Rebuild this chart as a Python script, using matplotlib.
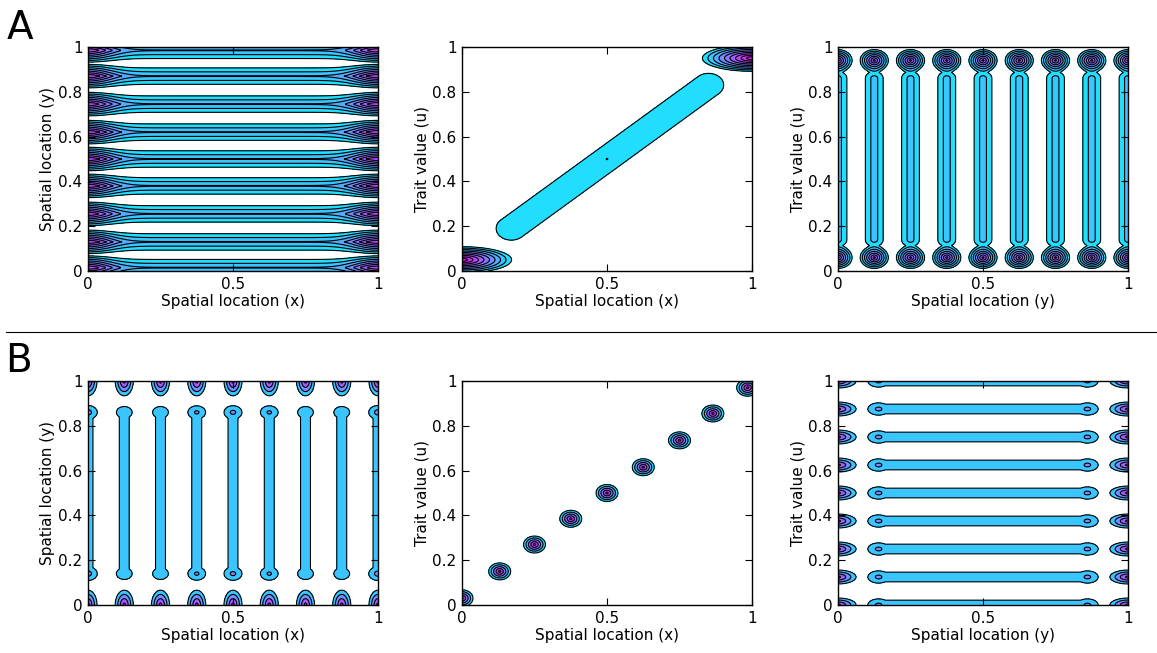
import numpy as np
import matplotlib
matplotlib.use("Agg")
import matplotlib.pyplot as plt
from matplotlib.lines import Line2D

# stripe / cluster centres
a1_stripe_y = [0.015, 0.13, 0.255, 0.38, 0.5, 0.62, 0.745, 0.87, 0.985]
a2_band_start = (0.17, 0.19)
a2_band_end = (0.85, 0.83)
a2_corner_blobs = [(0.0, 0.05), (1.0, 0.95)]
a3_stripe_x = [0.0, 0.125, 0.25, 0.375, 0.5, 0.625, 0.75, 0.875, 1.0]
a3_blob_u = [0.06, 0.94]
b1_stripe_x = [0.0, 0.125, 0.25, 0.375, 0.5, 0.625, 0.75, 0.875, 1.0]
b1_bulge_y = [0.14, 0.86]
b1_bulge_peak = [0.45, 0.36, 0.36, 0.42, 0.43, 0.42, 0.36, 0.36, 0.45]
b2_dot_x = [0.0, 0.13, 0.25, 0.375, 0.5, 0.625, 0.75, 0.865, 0.985]
b2_dot_u = [0.03, 0.15, 0.27, 0.385, 0.5, 0.615, 0.735, 0.855, 0.97]
b3_stripe_u = [0.0, 0.125, 0.25, 0.375, 0.5, 0.625, 0.75, 0.875, 1.0]
b3_bulge_x = [0.14, 0.86]

x_labels = ["Spatial location (x)", "Spatial location (x)", "Spatial location (y)"]
y_labels = ["Spatial location (y)", "Trait value (u)", "Trait value (u)"]

g = np.linspace(0, 1, 301)
X, Y = np.meshgrid(g, g)


def blob(cx, cy, sx, sy, amp):
    return amp * np.exp(-((X - cx) ** 2 / (2 * sx ** 2) + (Y - cy) ** 2 / (2 * sy ** 2)))


def cone(cx, cy, rx, ry, amp):
    r = np.sqrt(((X - cx) / rx) ** 2 + ((Y - cy) / ry) ** 2)
    return amp * np.clip(1 - r, 0, None)


def segment(p0, p1, s, amp):
    p0 = np.array(p0); p1 = np.array(p1)
    d = p1 - p0
    t = ((X - p0[0]) * d[0] + (Y - p0[1]) * d[1]) / (d @ d)
    t = np.clip(t, 0, 1)
    dist2 = (X - p0[0] - t * d[0]) ** 2 + (Y - p0[1] - t * d[1]) ** 2
    return amp * np.exp(-dist2 / (2 * s ** 2))


# A1 : horizontal stripes, stronger at the x edges
edge = np.exp(-(X / 0.09) ** 2) + np.exp(-((1 - X) / 0.09) ** 2)
fA1 = np.zeros_like(X)
for yc in a1_stripe_y:
    amp = 0.31 + 0.48 * edge
    R = 0.054 + 0.006 * edge
    fA1 = np.maximum(fA1, amp * np.clip(1 - np.abs(Y - yc) / R, 0, None))

# A2 : diagonal band + corner blobs
fA2 = segment(a2_band_start, a2_band_end, 0.058, 0.15)
fA2 += blob(0.5, 0.5, 0.004, 0.004, 0.07)
for cx, cy in a2_corner_blobs:
    fA2 = np.maximum(fA2, cone(cx, cy, 0.19, 0.065, 1.0))

# A3 : vertical stripes with blobs at top/bottom
fA3 = np.zeros_like(X)
for xc in a3_stripe_x:
    col = segment((xc, 0.14), (xc, 0.86), 0.024, 0.226)
    for uc in a3_blob_u:
        col = col + cone(xc, uc, 0.056, 0.056, 0.75)
    fA3 = np.maximum(fA3, col)

# B1 : vertical stripes, caps at y=0 and y=1
fB1 = np.zeros_like(X)
for xc, pk in zip(b1_stripe_x, b1_bulge_peak):
    fB1 = np.maximum(fB1, segment((xc, 0.14), (xc, 0.86), 0.019, 0.3))
    for yc in b1_bulge_y:
        fB1 = np.maximum(fB1, blob(xc, yc, 0.025, 0.024, pk))
    for yc in [0.0, 1.0]:
        fB1 = np.maximum(fB1, cone(xc, yc, 0.04, 0.085, 0.9))

# B2 : separated clusters along the diagonal
fB2 = np.zeros_like(X)
for cx, cu in zip(b2_dot_x, b2_dot_u):
    fB2 = np.maximum(fB2, cone(cx, cu, 0.042, 0.042, 1.0))

# B3 : horizontal stripes, edge blobs at x=0 and x=1
fB3 = np.zeros_like(X)
for uc in b3_stripe_u:
    fB3 = np.maximum(fB3, segment((0.13, uc), (0.87, uc), 0.024, 0.3))
    for xc in b3_bulge_x:
        fB3 = np.maximum(fB3, blob(xc, uc, 0.03, 0.022, 0.43))
    for xc in [0.0, 1.0]:
        fB3 = np.maximum(fB3, cone(xc, uc, 0.08, 0.04, 0.9))

levels_fine = [0.1, 0.2, 0.3, 0.4, 0.5, 0.6, 0.7, 0.8, 0.9, 1.01]
levels_dots = [0.1, 0.3, 0.5, 0.7, 0.9, 1.01]
levels_coarse = [0.2, 0.4, 0.6, 0.8, 1.01]

panels = [
    (fA1, levels_fine), (fA2, levels_fine), (fA3, levels_fine),
    (fB1, levels_coarse), (fB2, levels_dots), (fB3, levels_coarse),
]

fig = plt.figure(figsize=(11.57, 6.53), dpi=100)
lefts = [88 / 1157, 462 / 1157, 838 / 1157]
bottoms = [1 - 271 / 653, 1 - 605 / 653]
w, h = 290 / 1157, 224 / 653
cool = plt.get_cmap("cool")

for i, (field, lev) in enumerate(panels):
    row, col = divmod(i, 3)
    ax = fig.add_axes([lefts[col], bottoms[row], w, h])
    cols = [cool(min(l + 0.03, 1.0)) for l in lev[:-1]]
    ax.contourf(X, Y, field, levels=lev, colors=cols)
    ax.contour(X, Y, field, levels=lev[:-1], colors="k", linewidths=0.8)
    ax.set_xlim(0, 1)
    ax.set_ylim(0, 1)
    ax.set_xticks([0, 0.5, 1])
    ax.set_xticklabels(["0", "0.5", "1"])
    ax.set_yticks([0, 0.2, 0.4, 0.6, 0.8, 1])
    ax.set_yticklabels(["0", "0.2", "0.4", "0.6", "0.8", "1"])
    ax.tick_params(direction="in", top=True, right=True, length=5, labelsize=11, pad=4)
    ax.set_xlabel(x_labels[col], fontsize=11, labelpad=2)
    ax.set_ylabel(y_labels[col], fontsize=11, labelpad=2)
    for sp in ax.spines.values():
        sp.set_linewidth(1.0)

fig.text(0.006, 0.94, "A", fontsize=28)
fig.text(0.004, 0.43, "B", fontsize=28)
fig.add_artist(Line2D([0.005, 1.0], [1 - 332 / 653, 1 - 332 / 653], color="k", lw=0.8))

fig.savefig("out.png", dpi=100)
